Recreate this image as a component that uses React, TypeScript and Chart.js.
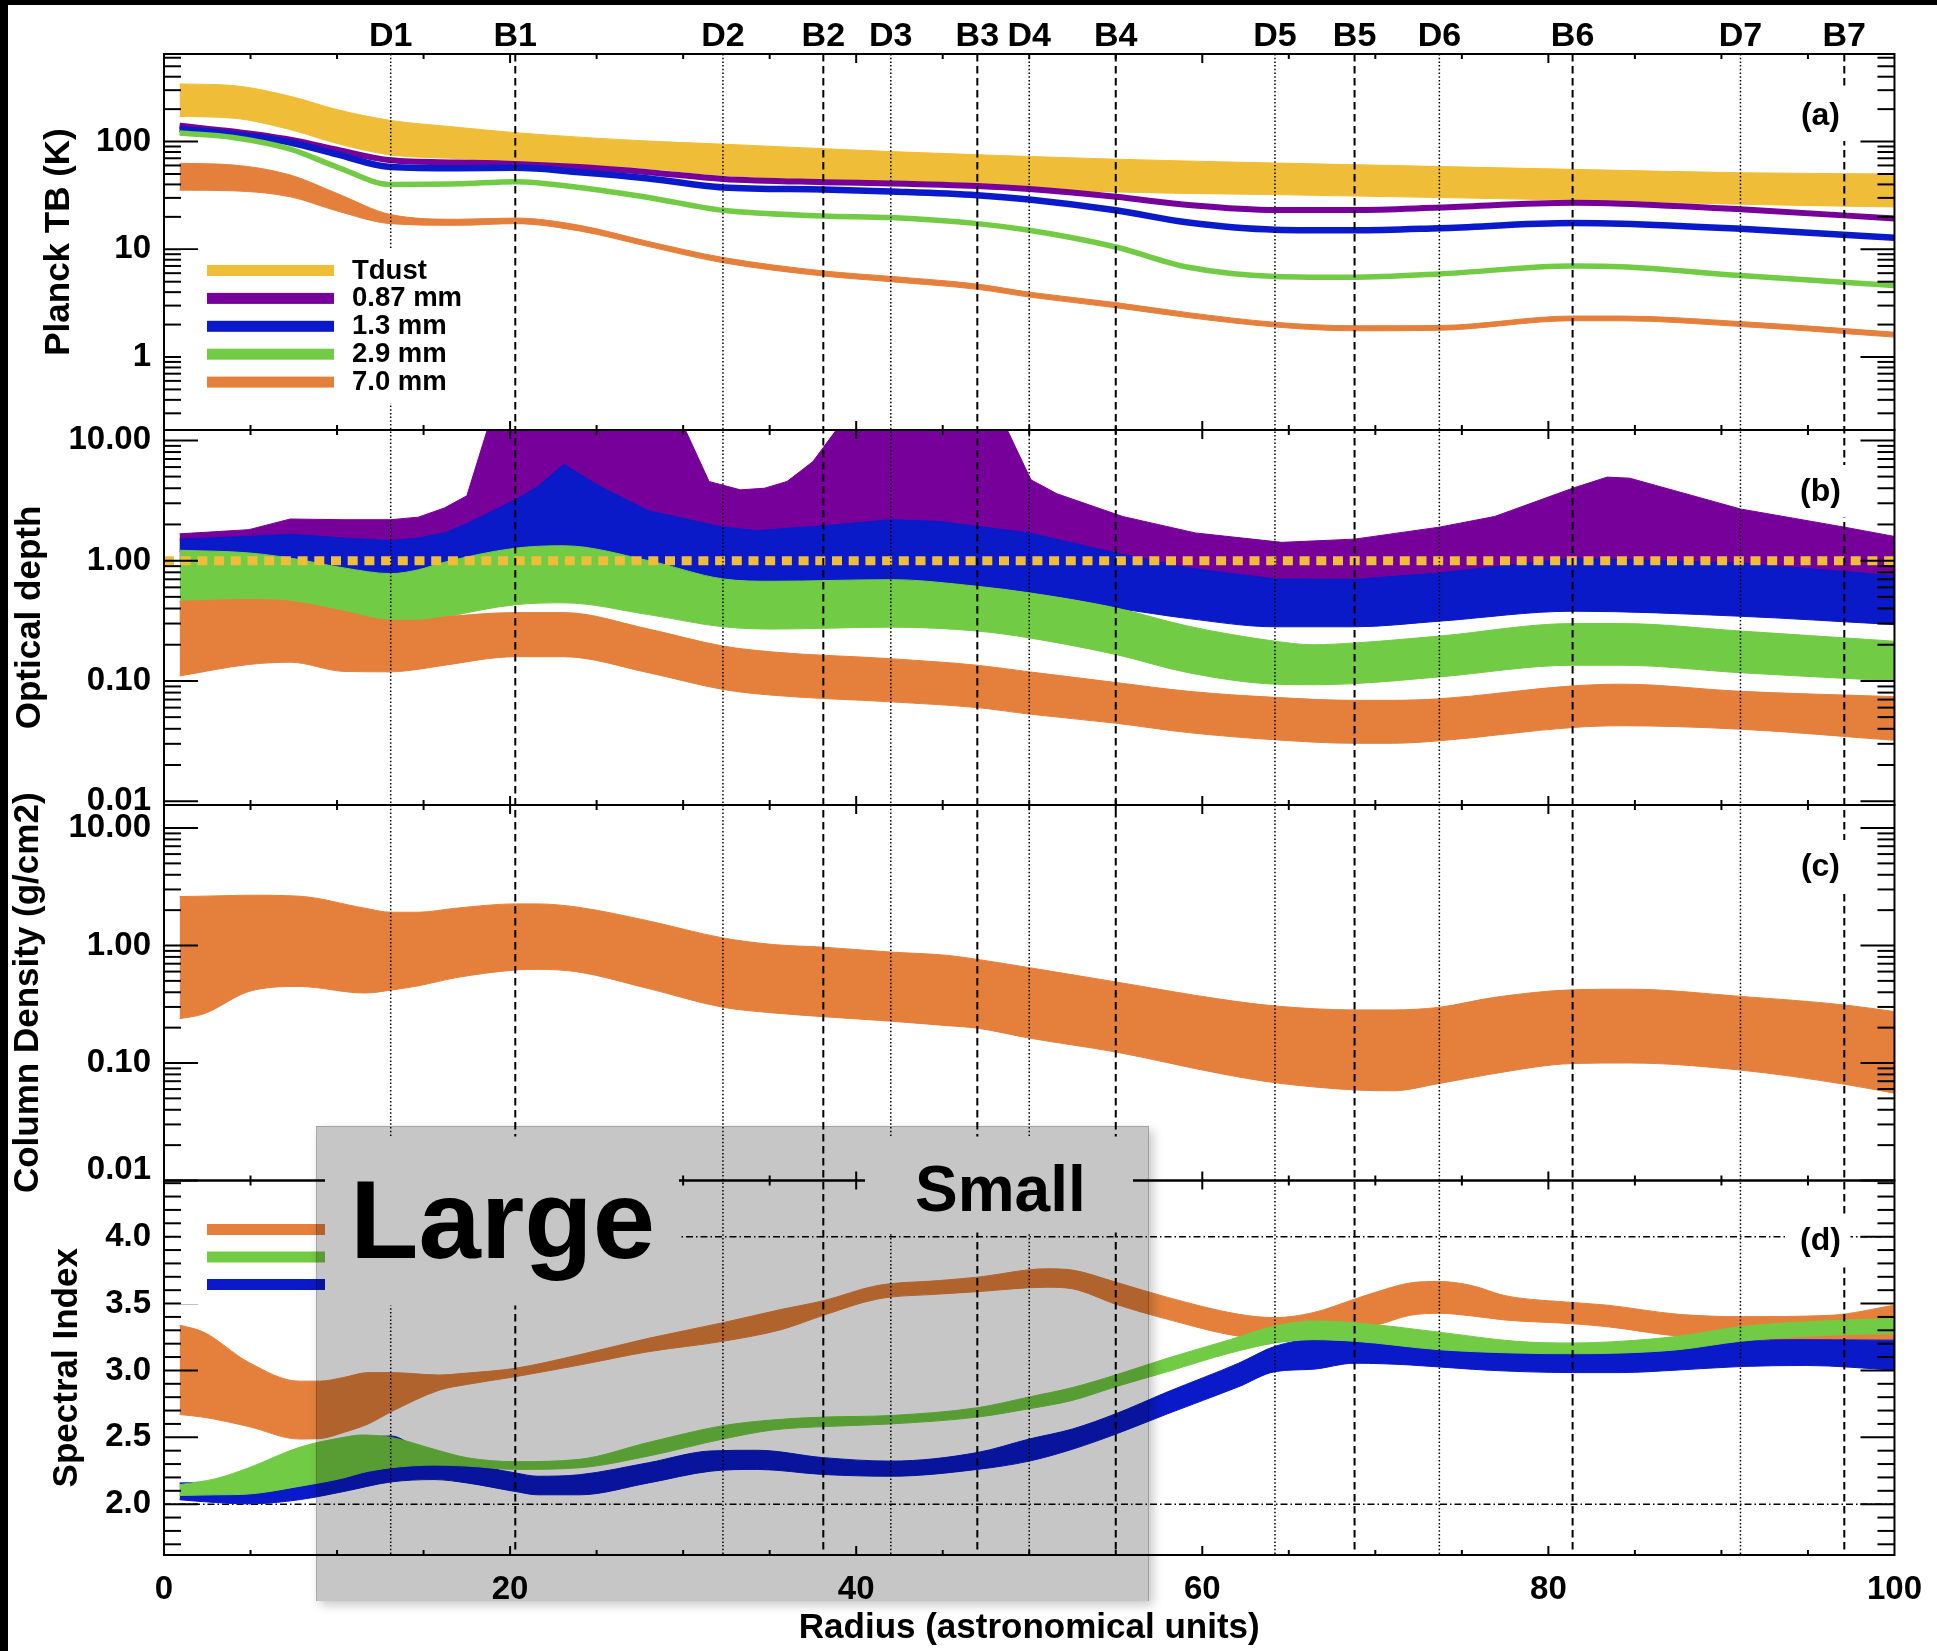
import React, { useEffect, useRef } from 'react';
import { Chart, registerables } from 'chart.js';

// ---------------- data ----------------
const gapLabels = ['D1', 'D2', 'D3', 'D4', 'D5', 'D6', 'D7'];
const gapRadii = [13.1, 32.3, 42.0, 50.0, 64.2, 73.7, 91.1];
const ringLabels = ['B1', 'B2', 'B3', 'B4', 'B5', 'B6', 'B7'];
const ringRadii = [20.3, 38.1, 47.0, 55.0, 68.8, 81.4, 97.1];

const radiusTicks = [0, 20, 40, 60, 80, 100];
const planckTicks = [1, 10, 100];
const depthTicks = [0.01, 0.1, 1, 10];
const columnTicks = [0.01, 0.1, 1, 10];
const indexTicks = [2.0, 2.5, 3.0, 3.5, 4.0];
const panelTags = ['(a)', '(b)', '(c)', '(d)'];

const planckLegend = ['Tdust', '0.87 mm', '1.3 mm', '2.9 mm', '7.0 mm'];

// Panel (a) Planck brightness temperature (K)
const aTdustX = [0.9, 4, 7.3, 10, 13.1, 16.5, 20.3, 28, 32.3, 42, 55, 65, 81.4, 91, 100];
const aTdustLow = [171, 165, 129, 96, 75, 70, 65, 56, 48.5, 41.4, 34.1, 32, 28.6, 26.2, 24.7];
const aTdustHigh = [343, 331, 263, 198, 157, 138, 121, 101, 94.6, 80.7, 68.6, 62.8, 55.2, 51.4, 50];

const aLineX = [0.9, 4, 7.3, 10, 13.1, 17, 20.3, 24, 28, 32.3, 38.1, 42, 47, 50, 55, 59.2, 64.2, 68.8, 73.7, 81.4, 84.2, 91.1, 100];
const a087 = [140, 124, 104, 84, 67, 64, 62, 58, 52, 45, 42, 40.9, 38.6, 36.2, 30.7, 25.8, 23.2, 23.2, 24.4, 27, 26.5, 23.5, 19.3];
const a13 = [131, 117, 98, 76, 58, 56.5, 57, 52, 45.5, 37.5, 35.9, 34.4, 31.8, 29, 23, 17.7, 15.2, 15.0, 15.7, 17.5, 17.3, 15.5, 12.8];
const a29 = [120, 109, 85, 58, 40, 40.5, 42.4, 37.5, 30.3, 23, 20.4, 19.7, 17.3, 15, 10.5, 6.8, 5.6, 5.5, 5.9, 7.0, 6.9, 5.7, 4.6];
const a70Low = [35.4, 34.9, 30.7, 22.7, 17.3, 16.7, 17.3, 14.8, 10.6, 7.5, 5.65, 5.0, 4.25, 3.6, 2.87, 2.32, 1.9, 1.75, 1.77, 2.17, 2.17, 1.92, 1.53];
const a70High = [62.8, 60.6, 48.9, 33, 21, 19.0, 19.5, 16.7, 11.8, 8.4, 6.3, 5.6, 4.75, 4.0, 3.2, 2.58, 2.1, 1.95, 1.96, 2.4, 2.4, 2.13, 1.7];

// Panel (b) optical depth
const bPurpleX = [0.9, 4.9, 7.3, 10.4, 13.1, 14.7, 16.2, 17.5, 18.7, 30.1, 31.5, 33.3, 34.7, 36, 37.5, 38.9, 48.7, 50.1, 51.6, 55.4, 59.6, 64.6, 68.8, 73.7, 76.9, 81.4, 83.4, 84.7, 91.1, 97.1, 100];
const bPurpleHigh = [1.67, 1.81, 2.22, 2.19, 2.19, 2.3, 2.74, 3.46, 12.5, 12.5, 4.55, 3.88, 4.0, 4.55, 6.66, 12.5, 12.5, 4.7, 3.6, 2.33, 1.7, 1.42, 1.51, 1.9, 2.33, 4.0, 4.95, 4.85, 2.69, 1.9, 1.59];
const bPurpleLow = [1.2, 1.27, 1.33, 1.23, 1.18, 1.23, 1.36, 1.62, 1.9, 1.75, 1.6, 1.48, 1.44, 1.48, 1.54, 1.6, 1.45, 1.36, 1.2, 0.9, 0.68, 0.56, 0.56, 0.63, 0.72, 0.84, 0.82, 0.81, 0.77, 0.64, 0.6];

const bBlueX = [0.9, 4.9, 7.3, 10.4, 13.1, 14.7, 16.2, 17.5, 20.3, 21.6, 23.1, 25.2, 28, 32.3, 34.3, 38.1, 42, 44.8, 50, 55, 59.2, 64.2, 68.8, 73.7, 81.4, 91.1, 100];
const bBlueHigh = [1.51, 1.59, 1.66, 1.54, 1.47, 1.54, 1.70, 2.03, 3.2, 4.13, 6.34, 4.13, 2.6, 1.9, 1.78, 1.95, 2.19, 2.12, 1.7, 1.16, 0.87, 0.705, 0.70, 0.79, 1.05, 0.957, 0.75];
const bBlueLow = [1.0, 0.95, 0.88, 0.72, 0.65, 0.7, 0.8, 0.85, 1.05, 1.08, 1.1, 1.0, 0.85, 0.6, 0.57, 0.58, 0.59, 0.55, 0.46, 0.40, 0.33, 0.282, 0.282, 0.314, 0.38, 0.345, 0.294];

const bGreenX = [0.9, 4.9, 7.3, 10.4, 13.1, 14.7, 16.2, 20.3, 23.1, 28, 32.3, 35.2, 42, 47, 50, 55, 59.2, 64.2, 66.4, 68.8, 73.7, 81.4, 84.2, 91.1, 100];
const bGreenHigh = [1.22, 1.16, 1.05, 0.87, 0.78, 0.84, 0.97, 1.27, 1.33, 1.0, 0.705, 0.674, 0.695, 0.612, 0.54, 0.405, 0.285, 0.214, 0.2, 0.207, 0.236, 0.30, 0.30, 0.26, 0.214];
const bGreenLow = [0.30, 0.30, 0.30, 0.30, 0.28, 0.29, 0.335, 0.43, 0.446, 0.356, 0.282, 0.27, 0.28, 0.26, 0.228, 0.166, 0.117, 0.094, 0.093, 0.095, 0.108, 0.135, 0.135, 0.117, 0.1];

const bOrangeX = [0.9, 4.9, 7.3, 10.4, 13.1, 14.7, 16.2, 20.3, 23.1, 28, 32.3, 35.2, 42, 47, 50, 55, 59.2, 64.2, 68.8, 71, 73.7, 81.4, 84.2, 91.1, 100];
const bOrangeHigh = [0.46, 0.475, 0.46, 0.38, 0.32, 0.32, 0.34, 0.37, 0.37, 0.27, 0.195, 0.174, 0.153, 0.135, 0.119, 0.097, 0.082, 0.073, 0.069, 0.069, 0.071, 0.091, 0.094, 0.082, 0.074];
const bOrangeLow = [0.11, 0.137, 0.143, 0.12, 0.119, 0.125, 0.135, 0.159, 0.159, 0.117, 0.085, 0.076, 0.067, 0.06, 0.053, 0.0445, 0.0372, 0.0324, 0.0303, 0.0303, 0.0318, 0.041, 0.0424, 0.0397, 0.0321];
const opticalDepthUnity = 1;

// Panel (c) column density (g/cm2)
const cX = [0.9, 2.3, 4.9, 7.8, 11.6, 13.1, 14.7, 16.9, 20.3, 21.6, 23.9, 28, 32.3, 35.2, 38.1, 42, 45.3, 47, 50, 55, 61, 64.2, 68.8, 71, 73.7, 76.9, 81.4, 84.7, 91.1, 97.1, 100];
const cHigh = [2.61, 2.63, 2.68, 2.63, 2.08, 1.92, 1.92, 2.08, 2.26, 2.26, 2.12, 1.62, 1.16, 1.02, 0.968, 0.879, 0.824, 0.762, 0.648, 0.49, 0.35, 0.306, 0.283, 0.283, 0.298, 0.362, 0.42, 0.425, 0.369, 0.312, 0.274];
const cLow = [0.238, 0.262, 0.406, 0.448, 0.394, 0.417, 0.454, 0.533, 0.619, 0.627, 0.596, 0.43, 0.298, 0.267, 0.248, 0.227, 0.208, 0.198, 0.163, 0.124, 0.0815, 0.068, 0.059, 0.058, 0.067, 0.0815, 0.099, 0.1, 0.087, 0.066, 0.0553];

// Panel (d) spectral index
const dOrangeX = [0.9, 2.3, 4.9, 7.8, 9, 10.4, 11.8, 13.1, 15.9, 17.5, 20.3, 24, 28, 32.3, 35.7, 38.1, 41.2, 44.8, 47, 51, 52.5, 55, 58, 62.1, 64.2, 66.4, 68.8, 70, 72, 73.7, 75.6, 77.5, 81.4, 83.4, 87.5, 91.1, 96.3, 100];
const dOrangeHigh = [3.339, 3.286, 3.06, 2.92, 2.92, 2.948, 2.984, 2.984, 2.966, 2.98, 3.016, 3.117, 3.24, 3.357, 3.457, 3.521, 3.634, 3.672, 3.697, 3.76, 3.75, 3.66, 3.546, 3.42, 3.395, 3.432, 3.533, 3.584, 3.654, 3.665, 3.634, 3.559, 3.508, 3.488, 3.42, 3.402, 3.412, 3.488];
const dOrangeLow = [2.67, 2.65, 2.58, 2.487, 2.49, 2.537, 2.6, 2.689, 2.852, 2.895, 2.953, 3.04, 3.14, 3.218, 3.306, 3.412, 3.533, 3.571, 3.589, 3.622, 3.61, 3.495, 3.382, 3.256, 3.24, 3.28, 3.32, 3.337, 3.412, 3.427, 3.407, 3.377, 3.349, 3.327, 3.256, 3.23, 3.23, 3.226];

const dGreenX = [0.9, 3, 4.9, 7.8, 10.4, 11.4, 13.1, 15.6, 17.5, 20.3, 24, 28, 32.3, 35.2, 38.1, 42, 47, 50, 52.5, 55, 58, 61.6, 64.2, 66.4, 68.8, 73.7, 78.1, 81.4, 84.2, 87.5, 91.1, 94.9, 100];
const dGreenHigh = [2.146, 2.191, 2.272, 2.424, 2.5, 2.517, 2.5, 2.411, 2.348, 2.318, 2.335, 2.462, 2.587, 2.63, 2.651, 2.663, 2.721, 2.802, 2.872, 2.966, 3.092, 3.23, 3.332, 3.37, 3.357, 3.286, 3.218, 3.205, 3.218, 3.256, 3.327, 3.364, 3.387];
const dGreenLow = [2.065, 2.07, 2.076, 2.133, 2.197, 2.234, 2.272, 2.292, 2.285, 2.26, 2.272, 2.36, 2.487, 2.555, 2.58, 2.6, 2.651, 2.714, 2.776, 2.878, 2.991, 3.13, 3.205, 3.23, 3.218, 3.155, 3.13, 3.125, 3.13, 3.155, 3.218, 3.256, 3.276];

const dBlueX = [0.9, 3, 4.9, 7.8, 10.4, 13.1, 15.6, 17.5, 20.3, 21.6, 24, 28, 31.6, 34.3, 38.1, 42, 47, 50, 52.5, 55, 58, 62.1, 64.2, 66.4, 68.8, 72, 76.3, 81.4, 84.2, 87.5, 91.1, 94.9, 100];
const dBlueHigh = [2.159, 2.17, 2.24, 2.38, 2.47, 2.51, 2.33, 2.30, 2.234, 2.209, 2.22, 2.31, 2.398, 2.403, 2.348, 2.322, 2.386, 2.487, 2.562, 2.676, 2.84, 3.054, 3.18, 3.23, 3.218, 3.18, 3.142, 3.13, 3.13, 3.16, 3.218, 3.23, 3.226];
const dBlueLow = [2.033, 2.012, 2.002, 2.033, 2.095, 2.166, 2.184, 2.159, 2.095, 2.07, 2.07, 2.159, 2.247, 2.26, 2.222, 2.209, 2.26, 2.322, 2.411, 2.524, 2.676, 2.878, 2.991, 3.009, 3.054, 3.041, 3.003, 2.984, 2.984, 3.003, 3.029, 3.037, 3.003];
const indexRefLevels = [2.0, 4.0];

// grey highlight (radius range, AU)
const shadeRadii = [8.8, 56.9];

// ---------------- styling ----------------
const FONT = '"Liberation Sans", Arial, Helvetica, sans-serif';
const cYellow = '#efbd37';
const cPurple = '#77009a';
const cBlue = '#0a1ac8';
const cGreen = '#72cb44';
const cOrange = '#e4803c';
const planckLegendColors = [cYellow, cPurple, cBlue, cGreen, cOrange];
const indexLegendColors = [cOrange, cGreen, cBlue];

// clip every dataset to its own panel (registered before the filler)
const panelClip = {
  id: 'panelClip',
  beforeDatasetDraw(chart: any, args: any) {
    const ys = args.meta.yScale;
    const ca = chart.chartArea;
    const ctx = chart.ctx;
    ctx.save();
    if (ys && ca) {
      ctx.beginPath();
      ctx.rect(ca.left, ys.top, ca.right - ca.left, ys.bottom - ys.top);
      ctx.clip();
    }
  },
  afterDatasetDraw(chart: any) {
    chart.ctx.restore();
  },
};
Chart.register(panelClip);
Chart.register(...registerables);
Chart.defaults.font.family = FONT;
Chart.defaults.color = '#000';

const pts = (xs: number[], ys: number[]) => xs.map((x, i) => ({ x, y: ys[i] }));

function band(axis: string, xs: number[], lo: number[], hi: number[], color: string, order: number, linearTop = false) {
  const base: any = { yAxisID: axis, pointRadius: 0, borderWidth: 1, borderColor: color, order, cubicInterpolationMode: 'monotone' };
  const top: any = { ...base, data: pts(xs, hi), fill: '-1', backgroundColor: color };
  if (linearTop) { top.cubicInterpolationMode = 'default'; top.tension = 0; }
  return [{ ...base, data: pts(xs, lo), fill: false }, top];
}
function line(axis: string, xs: number[], ys: number[], color: string, width: number, order: number) {
  return { yAxisID: axis, data: pts(xs, ys), borderColor: color, borderWidth: width, pointRadius: 0, fill: false, order, cubicInterpolationMode: 'monotone', borderJoinStyle: 'round' };
}

function yTickMarks(s: any) {
  const out: { v: number; major: boolean }[] = [];
  if (s.type === 'logarithmic') {
    const e0 = Math.floor(Math.log10(s.min));
    const e1 = Math.ceil(Math.log10(s.max));
    for (let e = e0; e <= e1; e++) {
      for (let m = 1; m <= 9; m++) {
        const v = m * Math.pow(10, e);
        if (v >= s.min * 0.999 && v <= s.max * 1.001) out.push({ v, major: m === 1 });
      }
    }
  } else {
    for (let k = Math.ceil(s.min * 10 + 1e-6); k <= Math.floor(s.max * 10 - 1e-6); k++) {
      out.push({ v: k / 10, major: k % 5 === 0 });
    }
  }
  return out;
}

const decor = {
  id: 'decor',
  beforeDraw(chart: any) {
    const { ctx, width, height } = chart;
    ctx.save();
    ctx.fillStyle = '#fff';
    ctx.fillRect(0, 0, width, height);
    ctx.fillStyle = '#000';
    ctx.fillRect(0, 0, width, 5);
    ctx.fillRect(0, 0, 8, height);
    ctx.restore();
  },
  afterDatasetsDraw(chart: any) {
    const { ctx, chartArea: ca, scales } = chart;
    const xs = scales.x;
    const panels = [scales.yA, scales.yB, scales.yC, scales.yD];
    const yA = scales.yA;
    const yD = scales.yD;
    const L = ca.left;
    const R = ca.right;
    const seg = (x1: number, y1: number, x2: number, y2: number) => {
      ctx.beginPath(); ctx.moveTo(x1, y1); ctx.lineTo(x2, y2); ctx.stroke();
    };
    ctx.save();
    ctx.strokeStyle = '#000';
    ctx.lineCap = 'butt';
    // gap (dotted) and ring (dashed) lines
    ctx.lineWidth = 1.5;
    ctx.setLineDash([1.5, 2.2]);
    gapRadii.forEach((r) => { const px = xs.getPixelForValue(r); seg(px, ca.top, px, ca.bottom); });
    ctx.lineWidth = 2;
    ctx.setLineDash([7.5, 4.5]);
    ringRadii.forEach((r) => { const px = xs.getPixelForValue(r); seg(px, ca.top, px, ca.bottom); });
    ctx.setLineDash([]);
    // frames and tick marks
    ctx.lineWidth = 2;
    panels.forEach((p: any) => {
      ctx.strokeRect(L, p.top, R - L, p.bottom - p.top);
      for (let v = 5; v < 100; v += 5) {
        const px = xs.getPixelForValue(v);
        const len = v % 20 === 0 ? 9 : 5;
        seg(px, p.top, px, p.top + len);
        seg(px, p.bottom, px, p.bottom - len);
      }
      yTickMarks(p).forEach(({ v, major }) => {
        const py = p.getPixelForValue(v);
        const len = major ? 34 : 17;
        seg(L, py, L + len, py);
        seg(R, py, R - len, py);
      });
    });
    // labels on top
    ctx.fillStyle = '#000';
    ctx.font = `bold 34px ${FONT}`;
    ctx.textAlign = 'center';
    ctx.textBaseline = 'alphabetic';
    gapLabels.forEach((t, i) => ctx.fillText(t, xs.getPixelForValue(gapRadii[i]), ca.top - 8));
    ringLabels.forEach((t, i) => ctx.fillText(t, xs.getPixelForValue(ringRadii[i]), ca.top - 8));
    // legend boxes
    ctx.fillStyle = '#fff';
    ctx.fillRect(L + 17, yA.top + 196, 289, 153);
    ctx.fillRect(L + 17, yD.top + 8, 498, 116);
    ctx.font = `bold 27.5px ${FONT}`;
    ctx.textAlign = 'left';
    planckLegend.forEach((t, i) => {
      const cy = yA.top + 216.5 + i * 27.9;
      ctx.fillStyle = planckLegendColors[i];
      ctx.fillRect(L + 43, cy - 5.5, 127, 11);
      ctx.fillStyle = '#000';
      ctx.fillText(t, L + 188, cy + 8);
    });
    indexLegendColors.forEach((c, i) => {
      const cy = yD.top + 49 + i * 27.5;
      ctx.fillStyle = c;
      ctx.fillRect(L + 43, cy - 5.5, 127, 11);
    });
    // "Large" / "Small" boxes
    ctx.fillStyle = '#fff';
    ctx.fillRect(L + 161, yD.top - 44, 354, 169);
    ctx.fillRect(L + 701, yD.top - 44, 268, 96);
    panels.forEach((p: any, i: number) => {
      const w = i === 3 ? 64 : 56;
      ctx.fillRect(R - 44 - w, p.top + 35, w, 52);
    });
    ctx.fillStyle = '#000';
    ctx.textAlign = 'left';
    ctx.font = `bold 112px ${FONT}`;
    ctx.fillText('Large', L + 186, yD.top + 77);
    ctx.font = `bold 64px ${FONT}`;
    ctx.fillText('Small', L + 751, yD.top + 30);
    ctx.font = `bold 32px ${FONT}`;
    ctx.textAlign = 'center';
    ctx.textBaseline = 'middle';
    panels.forEach((p: any, i: number) => ctx.fillText(panelTags[i], R - 74, p.top + (i === 3 ? 61 : 62)));
    ctx.restore();
  },
  afterDraw(chart: any) {
    const { ctx, scales } = chart;
    const xs = scales.x;
    const x0 = xs.getPixelForValue(shadeRadii[0]);
    const x1 = xs.getPixelForValue(shadeRadii[1]);
    const y0 = scales.yC.getPixelForValue(0.029);
    const y1 = scales.yD.getPixelForValue(1.276);
    ctx.save();
    ctx.beginPath();
    ctx.rect(0, 0, chart.width, chart.height);
    ctx.rect(x0, y0, x1 - x0, y1 - y0);
    ctx.clip('evenodd');
    ctx.shadowColor = 'rgba(0,0,0,0.22)';
    ctx.shadowBlur = 10;
    ctx.shadowOffsetX = 4;
    ctx.shadowOffsetY = 4;
    ctx.fillStyle = '#000';
    ctx.fillRect(x0, y0, x1 - x0, y1 - y0);
    ctx.restore();
    ctx.save();
    ctx.fillStyle = 'rgba(0,0,0,0.224)';
    ctx.fillRect(x0, y0, x1 - x0, y1 - y0);
    ctx.restore();
  },
};

function yScale(o: any) {
  const raise = (i: number) => o.raiseFirst && i === 0;
  return {
    type: o.type,
    position: 'left',
    stack: 'panels',
    stackWeight: o.h,
    weight: o.w,
    min: o.min,
    max: o.max,
    afterFit: (s: any) => { s.width = 164; },
    afterBuildTicks: (s: any) => { s.ticks = o.ticks.map((v: number) => ({ value: v })); },
    ticks: {
      callback: (v: any, i: number) => (raise(i) ? [o.fmt(Number(v)), ''] : o.fmt(Number(v))),
      font: (c: any) => ({ size: 33, weight: 'bold', lineHeight: raise(c.index) ? 0.667 : 1.2 }),
      color: '#000',
      padding: 13,
      autoSkip: false,
    },
    grid: { display: false, drawTicks: false },
    border: { display: false },
    title: { display: true, text: o.title, font: { size: 35, weight: 'bold' }, color: '#000', padding: { top: o.tp, bottom: 0 } },
  };
}

function buildConfig(): any {
  const datasets: any[] = [];
  // panel a
  datasets.push(...band('yA', aTdustX, aTdustLow, aTdustHigh, cYellow, 10));
  datasets.push(line('yA', aLineX, a087, cPurple, 6, 9));
  datasets.push(line('yA', aLineX, a13, cBlue, 6.5, 8));
  datasets.push(line('yA', aLineX, a29, cGreen, 5.5, 7));
  datasets.push(...band('yA', aLineX, a70Low, a70High, cOrange, 6));
  // panel b
  datasets.push(...band('yB', bPurpleX, bPurpleLow, bPurpleHigh, cPurple, 9, true));
  datasets.push(...band('yB', bBlueX, bBlueLow, bBlueHigh, cBlue, 8, true));
  datasets.push(...band('yB', bGreenX, bGreenLow, bGreenHigh, cGreen, 7));
  datasets.push(...band('yB', bOrangeX, bOrangeLow, bOrangeHigh, cOrange, 6));
  datasets.push({ yAxisID: 'yB', data: [{ x: 0, y: opticalDepthUnity }, { x: 100, y: opticalDepthUnity }], borderColor: cYellow, borderWidth: 9, borderDash: [10, 6.7], borderCapStyle: 'butt', pointRadius: 0, fill: false, order: 1 });
  // panel c
  datasets.push(...band('yC', cX, cLow, cHigh, cOrange, 6));
  // panel d
  indexRefLevels.forEach((v) => {
    datasets.push({ yAxisID: 'yD', data: [{ x: 0, y: v }, { x: 100, y: v }], borderColor: '#000', borderWidth: 1.5, borderDash: [7, 3, 1.5, 3], pointRadius: 0, fill: false, order: 20 });
  });
  datasets.push(...band('yD', dOrangeX, dOrangeLow, dOrangeHigh, cOrange, 9));
  datasets.push(...band('yD', dBlueX, dBlueLow, dBlueHigh, cBlue, 8));
  datasets.push(...band('yD', dGreenX, dGreenLow, dGreenHigh, cGreen, 7));

  return {
    type: 'line',
    data: { datasets },
    plugins: [decor],
    options: {
      animation: false,
      responsive: false,
      maintainAspectRatio: false,
      devicePixelRatio: 1,
      events: [],
      layout: { padding: { left: 0, right: 40, top: 54, bottom: 0 } },
      plugins: { legend: { display: false }, tooltip: { enabled: false }, colors: { enabled: false } },
      scales: {
        x: {
          type: 'linear', position: 'bottom', min: 0, max: 100,
          afterBuildTicks: (s: any) => { s.ticks = radiusTicks.map((v) => ({ value: v })); },
          afterFit: (s: any) => { s.height = 96; },
          ticks: { font: { size: 33, weight: 'bold' }, color: '#000', padding: 15, maxRotation: 0, autoSkip: false, callback: (v: any) => String(v) },
          grid: { display: false, drawTicks: false },
          border: { display: false },
          title: { display: true, text: 'Radius (astronomical units)', font: { size: 35, weight: 'bold' }, color: '#000', padding: { top: 0, bottom: 2 } },
        },
        yD: yScale({ type: 'linear', h: 374.5, w: 1, min: 1.62, max: 4.42, ticks: indexTicks, fmt: (v: number) => v.toFixed(1), title: 'Spectral Index', tp: 46 }),
        yC: yScale({ type: 'logarithmic', h: 375.5, w: 2, min: 0.01, max: 15.7, ticks: columnTicks, fmt: (v: number) => v.toFixed(2), title: 'Column Density (g/cm2)', tp: 7, raiseFirst: true }),
        yB: yScale({ type: 'logarithmic', h: 375, w: 3, min: 0.0093, max: 12.2, ticks: depthTicks, fmt: (v: number) => v.toFixed(2), title: 'Optical depth', tp: 9 }),
        yA: yScale({ type: 'logarithmic', h: 376, w: 4, min: 0.21, max: 650, ticks: planckTicks, fmt: (v: number) => String(Math.round(v)), title: 'Planck TB (K)', tp: 38 }),
      },
    },
  };
}

export default function App() {
  const ref = useRef<HTMLCanvasElement>(null);
  useEffect(() => {
    const canvas = ref.current;
    if (!canvas) return;
    const chart = new Chart(canvas, buildConfig());
    return () => chart.destroy();
  }, []);
  return (
    <div style={{ position: 'absolute', left: 0, top: 0, width: 1937, height: 1651, background: '#fff' }}>
      <canvas ref={ref} width={1937} height={1651} style={{ display: 'block', width: 1937, height: 1651 }} />
    </div>
  );
}
